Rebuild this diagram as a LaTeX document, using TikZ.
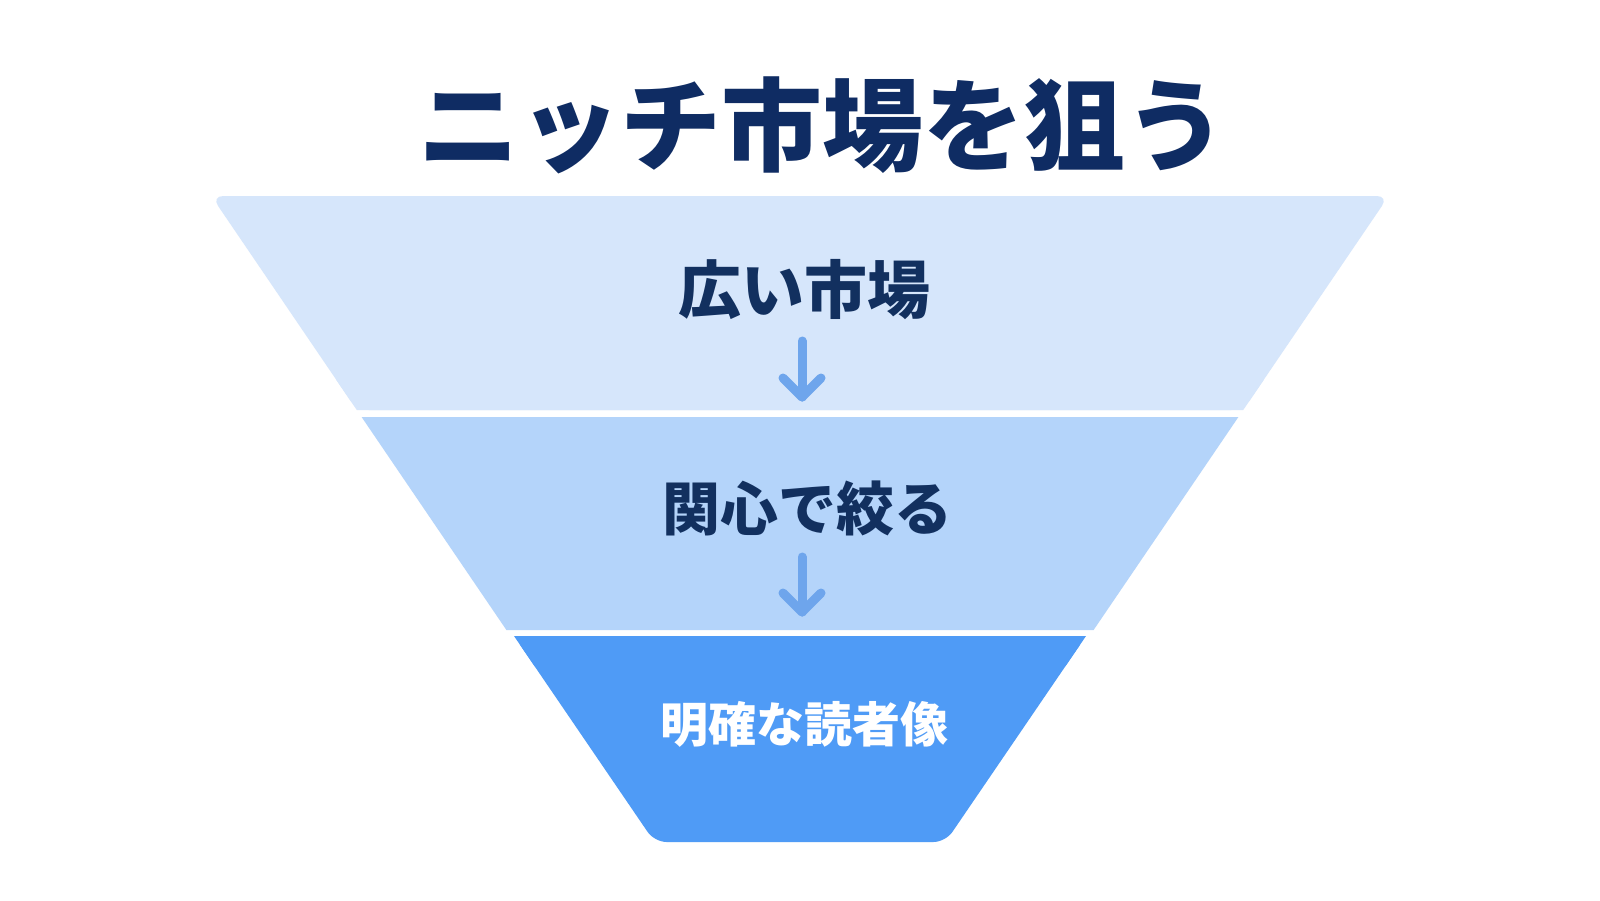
\documentclass[tikz,border=0pt]{standalone}
\usepackage{fontspec}
\setmainfont{Noto Sans CJK JP}
\usetikzlibrary{calc}
\definecolor{bandA}{HTML}{D6E6FB}
\definecolor{bandB}{HTML}{B4D4FA}
\definecolor{bandC}{HTML}{4F9BF6}
\definecolor{arrowc}{HTML}{6EA5EC}
\definecolor{navy}{HTML}{0F2C63}
\definecolor{navyb}{HTML}{12305F}
\tikzset{
  arr/.style={draw=arrowc, line width=9pt, line cap=round, line join=round},
  lbl/.style={font=\bfseries\fontsize{58}{60}\selectfont, text=navyb, inner sep=0pt},
}
\begin{document}
\begin{tikzpicture}[x=1pt,y=-1pt]
\useasboundingbox (0,0) rectangle (1600,900);
\fill[white] (0,0) rectangle (1600,900);
% band 1
\fill[bandA, rounded corners=12] (211.3,196) -- (1388.7,196) -- (1243.2,410) -- (356.8,410) -- cycle;
\fill[bandA] (336.4,380) -- (1263.6,380) -- (1243.2,410) -- (356.8,410) -- cycle;
% band 2
\fill[bandB] (361.6,417) -- (1238.4,417) -- (1093.6,630) -- (506.4,630) -- cycle;
% band 3
\fill[bandC, rounded corners=12] (514,636) -- (1086,636) -- (945.5,842) -- (654.5,842) -- cycle;
\fill[bandC] (514,636) -- (1086,636) -- (1065.5,666) -- (534.5,666) -- cycle;
% title
\node[font=\bfseries\fontsize{101}{104}\selectfont, text=navy, inner sep=0pt] (title) at (822,125) {ニッチ市場を狙う};
% labels
\node[lbl, font=\bfseries\fontsize{63}{66}\selectfont] (l1) at (804,290) {広い市場};
\node[lbl] (l2) at (807,508) {関心で絞る};
\node[lbl, font=\bfseries\fontsize{48}{50}\selectfont, text=white] (l3) at (804,724) {明確な読者像};
% arrows
\coordinate (a1s) at (802,341);
\coordinate (a1e) at (802,397);
\coordinate (a2s) at (802,557);
\coordinate (a2e) at (802,612);
\draw[arr] (a1s) -- (a1e);
\draw[arr] ($(a1e)+(-19,-19)$) -- (a1e) -- ($(a1e)+(19,-19)$);
\draw[arr] (a2s) -- (a2e);
\draw[arr] ($(a2e)+(-19,-19)$) -- (a2e) -- ($(a2e)+(19,-19)$);
\end{tikzpicture}
\end{document}
